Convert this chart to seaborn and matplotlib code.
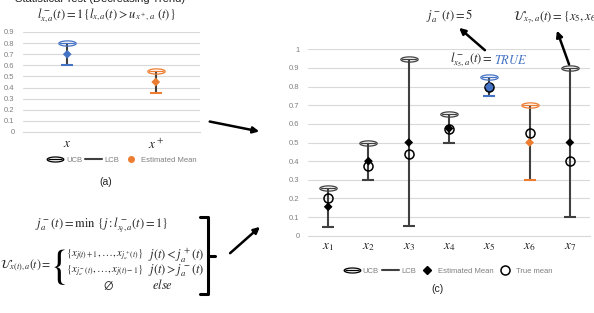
import numpy as np
import pandas as pd
import matplotlib
matplotlib.use("Agg")
import matplotlib.pyplot as plt
import seaborn as sns
from matplotlib.path import Path
from matplotlib.lines import Line2D

#-- data: panel (a) --#
a_labels = ["$x$", "$x^+$"]
a_ucb = [0.80, 0.55]
a_lcb = [0.60, 0.35]
a_est = [0.70, 0.45]
a_col = ["blue", "orange"]

#-- data: panel (c) --#
c_labels = ["$x_1$", "$x_2$", "$x_3$", "$x_4$", "$x_5$", "$x_6$", "$x_7$"]
c_ucb = [0.255, 0.50, 0.95, 0.655, 0.85, 0.70, 0.90]
c_lcb = [0.045, 0.30, 0.05, 0.50, 0.75, 0.30, 0.10]
c_est = [0.155, 0.40, 0.50, 0.575, 0.80, 0.50, 0.50]
c_true = [0.20, 0.375, 0.44, 0.575, 0.80, 0.55, 0.40]
c_col = ["black", "black", "black", "black", "blue", "orange", "black"]

BLUE = "#4472C4"
ORANGE = "#ED7D31"
GREY = "#404040"
GRID = "#D9D9D9"
TICK = "#7F7F7F"
pal = {"black": "black", "blue": BLUE, "orange": ORANGE}

sns.set_style("white")
plt.rcParams["font.family"] = ["Liberation Sans", "DejaVu Sans"]
plt.rcParams["mathtext.fontset"] = "stix"

W, H = 594, 313
fig = plt.figure(figsize=(W / 100, H / 100), dpi=100)

def fx(x):
    return x / W

def fy(y):
    return 1 - y / H

# UCB marker: ellipse with a bar through it
t = np.linspace(0, 2 * np.pi, 60)
ell = Path(np.column_stack([np.cos(t), 0.3 * np.sin(t)]))
bar = Path([(-0.85, 0), (0.85, 0)], [Path.MOVETO, Path.LINETO])
ucb_marker = Path.make_compound_path(ell, bar)


def draw_panel(ax, labels, ucb, lcb, est, cols, ymax, true=None):
    pos = np.arange(len(labels))
    df = pd.DataFrame({"pos": pos, "ucb": ucb, "lcb": lcb, "est": est, "col": cols})
    ticks = np.round(np.arange(0, ymax + 0.01, 0.1), 1)
    ax.set_xlim(-0.5, len(labels) - 0.5)
    ax.set_ylim(0, ymax)
    ax.set_yticks(ticks)
    ax.set_yticklabels([f"{v:g}" for v in ticks])
    ax.grid(axis="y", color=GRID, lw=0.8)
    ax.set_axisbelow(True)
    for s in ["top", "right", "left"]:
        ax.spines[s].set_visible(False)
    ax.spines["bottom"].set_color(GRID)
    ax.tick_params(axis="y", labelsize=5.5, colors=TICK, length=0, pad=6)
    ax.tick_params(axis="x", labelsize=9.5, colors="#222222", length=0, pad=4)
    ax.set_xticks(pos)
    ax.set_xticklabels(labels)
    ax.vlines(df["pos"], df["lcb"], df["ucb"], color=GREY, lw=1.5, zorder=2)
    for i, r in df.iterrows():
        c = pal[r["col"]] if r["col"] != "black" else GREY
        ax.plot(r["pos"], r["lcb"], marker="_", ms=8, mew=1.5, color=c, zorder=3)
        ax.plot(r["pos"], r["ucb"], marker=ucb_marker, ms=12.5, mew=0.9,
                mfc="none", mec=c, ls="none", zorder=3)
    if true is not None:
        df["true"] = true
        for i, r in df.iterrows():
            filled = r["col"] == "blue"
            ax.plot(r["pos"], r["true"], marker="o", ms=6.5, mew=1.1, mec="black",
                    mfc=BLUE if filled else "none", ls="none", zorder=4)
    sns.scatterplot(data=df, x="pos", y="est", hue="col", palette=pal, marker="D",
                    s=20, linewidth=0, legend=False, ax=ax, zorder=5)
    ax.set_xlabel("")
    ax.set_ylabel("")
    return ax


# panel (a)
ax_a = fig.add_axes([fx(23), fy(132), fx(177), 100 / H])
draw_panel(ax_a, a_labels, a_ucb, a_lcb, a_est, a_col, 0.9)

# panel (c)
ax_c = fig.add_axes([fx(308), fy(235.7), fx(282), 186.4 / H])
draw_panel(ax_c, c_labels, c_ucb, c_lcb, c_est, c_col, 1.0, true=c_true)

# titles / formulas for (a)
fig.text(fx(100), fy(-1), "Statistical Test (Decreasing Trend)", ha="center", va="center",
         fontsize=8, color="#222222")
fig.text(fx(106), fy(16), r"$l^-_{x,a}(t) = 1\{l_{x,a}(t) > u_{x^+,a}\ (t)\}$",
         ha="center", va="center", fontsize=9)

# legends
lh_a = [Line2D([], [], marker=ucb_marker, ms=12, mfc="none", mec="black", mew=0.9, ls="none", label="UCB"),
        Line2D([], [], color=GREY, lw=1.5, label="LCB"),
        Line2D([], [], marker="o", ms=4, color=ORANGE, ls="none", label="Estimated Mean")]
fig.legend(handles=lh_a, loc="center", bbox_to_anchor=(fx(122), fy(160)), ncol=3, frameon=False,
           fontsize=5.5, handlelength=2.2, handletextpad=0.3, columnspacing=0.4, labelcolor=TICK)
lh_c = [Line2D([], [], marker=ucb_marker, ms=12, mfc="none", mec="black", mew=0.9, ls="none", label="UCB"),
        Line2D([], [], color=GREY, lw=1.5, label="LCB"),
        Line2D([], [], marker="D", ms=4, color="black", ls="none", label="Estimated Mean"),
        Line2D([], [], marker="o", ms=6.5, mfc="none", mec="black", mew=1.1, ls="none", label="True mean")]
fig.legend(handles=lh_c, loc="center", bbox_to_anchor=(fx(448), fy(271)), ncol=4, frameon=False,
           fontsize=5.5, handlelength=2.2, handletextpad=0.3, columnspacing=0.4, labelcolor=TICK)

fig.text(fx(106), fy(182), "(a)", ha="center", va="center", fontsize=7.5, color="#222222")
fig.text(fx(438), fy(289), "(c)", ha="center", va="center", fontsize=7.5, color="#222222")
fig.text(fx(106), fy(318), "(b)", ha="center", va="center", fontsize=7.5, color="#222222")

# panel (b) formulas
fig.text(fx(102), fy(225), r"$j_a^-(t) = \min\ \{j : l^-_{x_j,a}(t) = 1\}$",
         ha="center", va="center", fontsize=9)
fig.text(fx(0), fy(265), r"$\mathcal{U}_{x(t),a}(t) =$", ha="left", va="center", fontsize=8.5)
fig.text(fx(60), fy(267), "{", ha="center", va="center", fontsize=30,
         family="STIXGeneral", color="black")
fig.text(fx(66), fy(255), r"$\{x_{j(t)+1},\ldots,x_{j_a^+(t)}\}$", ha="left", va="center", fontsize=7.8)
fig.text(fx(148), fy(255), r"$j(t) < j_a^+(t)$", ha="left", va="center", fontsize=9)
fig.text(fx(66), fy(271), r"$\{x_{j_a^-(t)},\ldots,x_{j(t)-1}\}$", ha="left", va="center", fontsize=7.8)
fig.text(fx(148), fy(271), r"$j(t) > j_a^-(t)$", ha="left", va="center", fontsize=9)
fig.text(fx(108), fy(285), r"$\emptyset$", ha="center", va="center", fontsize=9)
fig.text(fx(163), fy(285), r"$else$", ha="center", va="center", fontsize=9)

# right bracket of (b)
bx = [fx(200), fx(208), fx(208), fx(200)]
by = [fy(217), fy(217), fy(294), fy(294)]
fig.add_artist(Line2D(bx, by, color="black", lw=2.2))
fig.add_artist(Line2D([fx(208), fx(215)], [fy(256), fy(256)], color="black", lw=2.2))

# annotations on (c)
fig.text(fx(450), fy(16), r"$j_a^-(t) = 5$", ha="center", va="center", fontsize=9)
fig.text(fx(513), fy(17), r"$\mathcal{U}_{x_7,a}(t) = \{x_5, x_6\}$", ha="left", va="center", fontsize=9)
fig.text(fx(493), fy(60), r"$l^-_{x_5,a}(t) = $", ha="right", va="center", fontsize=9)
fig.text(fx(494), fy(60), r"$TRUE$", ha="left", va="center", fontsize=9, color=BLUE)

# arrows (figure pixels, y from top)
def arrow(x0, y0, x1, y1):
    fig.add_artist(matplotlib.patches.FancyArrowPatch(
        (fx(x0), fy(y0)), (fx(x1), fy(y1)), transform=fig.transFigure,
        arrowstyle="-|>", mutation_scale=9, lw=1.8, color="black"))

arrow(207, 121, 262, 132)
arrow(228, 255, 262, 225)
arrow(487, 52, 457, 26)
arrow(570, 67, 556, 28)

fig.savefig("out.png", dpi=100)
